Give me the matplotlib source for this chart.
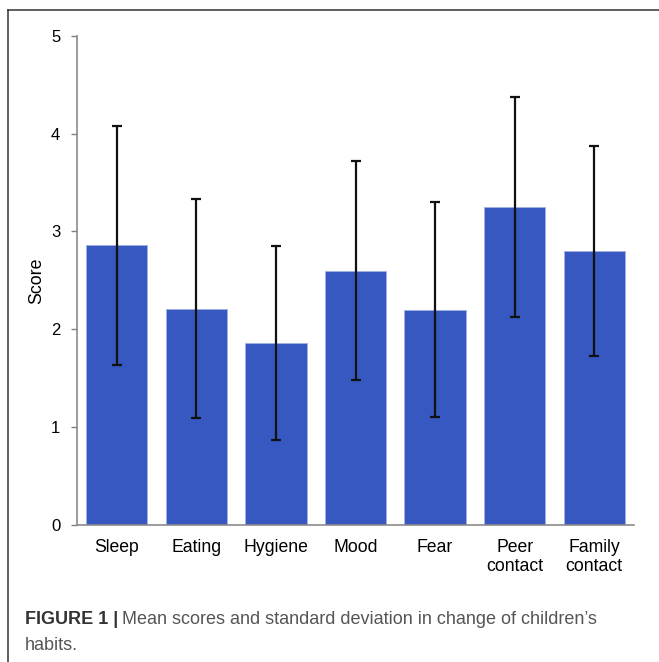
import matplotlib
matplotlib.use("Agg")
import matplotlib.pyplot as plt
from matplotlib.lines import Line2D

categories = ["Sleep", "Eating", "Hygiene", "Mood", "Fear", "Peer\ncontact", "Family\ncontact"]
means = [2.86, 2.21, 1.86, 2.60, 2.20, 3.25, 2.80]
sds = [1.22, 1.12, 0.99, 1.12, 1.10, 1.12, 1.07]
yticks = [0, 1, 2, 3, 4, 5]

plt.rcParams['font.family'] = ['Liberation Sans', 'DejaVu Sans']

W, H = 659, 662
fig = plt.figure(figsize=(W / 100, H / 100), dpi=100)
ax = fig.add_axes([77 / W, 1 - 525 / H, (634 - 77) / W, (525 - 35.7) / H])

x = list(range(len(categories)))
ax.bar(x, means, width=0.77, color='#3658c0', edgecolor='#9fb0e3', linewidth=0.6, zorder=2)
ax.errorbar(x, means, yerr=sds, fmt='none', ecolor='#111111', elinewidth=1.6,
            capsize=3.5, capthick=1.6, zorder=3)

ax.set_xlim(-0.5, len(categories) - 0.5)
ax.set_ylim(0, 5)
ax.set_yticks(yticks)
ax.set_yticklabels([str(t) for t in yticks], fontsize=12)
ax.set_xticks(x)
ax.set_xticklabels(categories, fontsize=12.7, linespacing=1.2)
ax.tick_params(axis='y', length=4, width=1, color='#808080', pad=8, direction='out')
ax.tick_params(axis='x', length=0, pad=10)
for s in ['top', 'right']:
    ax.spines[s].set_visible(False)
for s in ['left', 'bottom']:
    ax.spines[s].set_color('#8a8a8a')
    ax.spines[s].set_linewidth(1.2)
ax.set_ylabel("Score", fontsize=12.8)
ax.yaxis.set_label_coords((45 - 77) / (634 - 77), 0.5)

# frame lines (top and left)
fig.add_artist(Line2D([8 / W, 1.0], [1 - 10 / H, 1 - 10 / H], transform=fig.transFigure,
                      color='#333333', lw=1.1))
fig.add_artist(Line2D([8 / W, 8 / W], [0, 1 - 10 / H], transform=fig.transFigure,
                      color='#333333', lw=1.1))

# caption
t1 = fig.text(25 / W, 1 - 620 / H, "FIGURE 1 |", fontsize=13, fontweight='bold',
              color='#333333', va='center', ha='left')
fig.canvas.draw()
bb = t1.get_window_extent()
fig.text((bb.x1 + 4) / W, 1 - 620 / H, "Mean scores and standard deviation in change of children\u2019s",
         fontsize=13, color='#555555', va='center', ha='left')
fig.text(25 / W, 1 - 646 / H, "habits.", fontsize=13, color='#555555', va='center', ha='left')

fig.savefig("out.png", dpi=100)
